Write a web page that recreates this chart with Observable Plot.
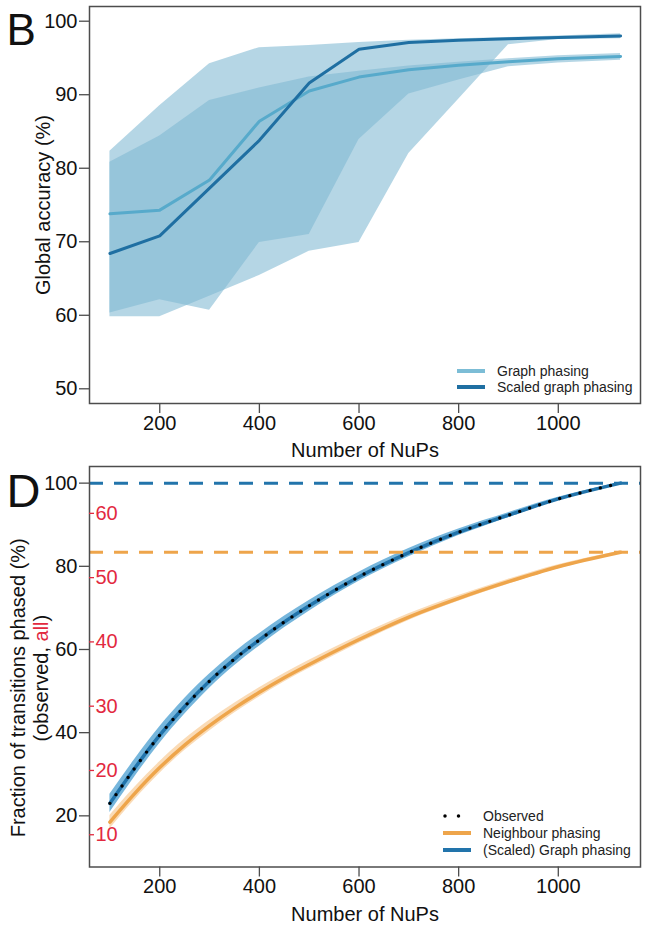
<!DOCTYPE html>
<html><head><meta charset="utf-8">
<script src="https://cdn.jsdelivr.net/npm/d3@7"></script>
<script src="https://cdn.jsdelivr.net/npm/@observablehq/plot@0.6"></script>
<style>
body{margin:0;background:#fff;}
#wrap{position:relative;width:655px;height:926px;font-family:"Liberation Sans",Arial,sans-serif;overflow:hidden;}
#wrap svg{display:block;}
.row{position:absolute;display:flex;align-items:center;height:16px;font-size:14px;color:#222;white-space:nowrap;}
.row svg{display:block;margin-right:12px;}
</style></head><body><div id="wrap"></div>
<script>
// ---------- Panel B data ----------
const nupsB      = [100, 200, 300, 400, 500, 600, 700, 800, 900, 1000, 1125];
const graphAcc   = [73.8, 74.3, 78.4, 86.4, 90.5, 92.4, 93.4, 94.0, 94.5, 94.9, 95.2];
const graphLo    = [60.3, 62.1, 60.7, 69.9, 71.0, 83.9, 90.1, 92.0, 93.8, 94.3, 94.7];
const graphHi    = [80.8, 84.4, 89.2, 90.9, 92.4, 93.2, 93.9, 94.4, 94.9, 95.3, 95.6];
const scaledAcc  = [68.4, 70.8, 77.3, 83.8, 91.6, 96.2, 97.1, 97.4, 97.6, 97.8, 98.0];
const scaledLo   = [59.8, 59.8, 62.6, 65.4, 68.7, 69.9, 82.0, 89.4, 96.8, 97.5, 97.6];
const scaledHi   = [82.3, 88.5, 94.2, 96.4, 96.7, 97.1, 97.4, 97.6, 97.8, 98.0, 98.3];
const yTicksB    = [50, 60, 70, 80, 90, 100];
const xTicks     = [200, 400, 600, 800, 1000];
const seriesB    = ["Graph phasing", "Scaled graph phasing"];

// ---------- Panel D data ----------
const nupsD       = [100, 150, 200, 250, 300, 350, 400, 450, 500, 600, 700, 800, 900, 1000, 1125];
const observed    = [23.0, 31.5, 39.4, 46.3, 52.4, 57.7, 62.3, 66.6, 70.5, 77.5, 83.3, 88.2, 92.3, 96.2, 100.0];
const graphDLo    = [20.8, 29.4, 37.4, 44.4, 50.7, 56.1, 60.8, 65.2, 69.2, 76.4, 82.3, 87.4, 91.7, 95.8, 99.9];
const graphDHi    = [25.2, 33.6, 41.4, 48.2, 54.1, 59.3, 63.8, 68.0, 71.8, 78.6, 84.3, 89.0, 92.9, 96.6, 100.1];
const neighbour   = [18.5, 25.4, 31.6, 37.0, 41.7, 45.9, 49.7, 53.2, 56.4, 62.4, 67.8, 72.3, 76.3, 79.9, 83.4];
const neighbourLo = [16.9, 23.9, 30.2, 35.7, 40.4, 44.7, 48.6, 52.2, 55.4, 61.5, 67.0, 71.6, 75.7, 79.4, 83.1];
const neighbourHi = [20.1, 26.9, 33.0, 38.4, 43.0, 47.1, 50.8, 54.2, 57.4, 63.3, 68.6, 73.0, 76.9, 80.4, 83.7];
const graphMax     = 100;   // dashed blue line
const neighbourMax = 83.4;  // dashed orange line
const yTicksD      = [20, 40, 60, 80, 100];
const allTicks     = [10, 20, 30, 40, 50, 60];   // red inner axis ("all")
const allToObserved = 100 / 64.7;                 // scale factor between the two y axes
const seriesD = ["Observed", "Neighbour phasing", "(Scaled) Graph phasing"];

// ---------- styles ----------
const FONT = '"Liberation Sans", Arial, sans-serif';
const AXIS = "#4d4d4d";
const LIGHT = "#57aacb", DARK = "#1f6fa2", BANDB = "#80b9d3";
const BLUE = "#2274ab", BLUEBAND = "#5ea9d6", ORANGE = "#eea54b", ORANGEBAND = "#f6c386";
const RED = "#e2293f";
const fmt = d => String(d);

const rowsB = nupsB.map((n, i) => ({nups: n, graph: graphAcc[i], graphLo: graphLo[i], graphHi: graphHi[i],
  scaled: scaledAcc[i], scaledLo: scaledLo[i], scaledHi: scaledHi[i]}));
const rowsD = nupsD.map((n, i) => ({nups: n, obs: observed[i], lo: graphDLo[i], hi: graphDHi[i],
  nb: neighbour[i], nbLo: neighbourLo[i], nbHi: neighbourHi[i]}));

const chartB = Plot.plot({
  width: 655, height: 460,
  marginLeft: 89, marginRight: 15, marginTop: 6, marginBottom: 57,
  style: {fontFamily: FONT, fontSize: "20px", color: "#111", background: "white", overflow: "visible"},
  x: {domain: [59, 1165]},
  y: {domain: [48, 102]},
  marks: [
    Plot.areaY(rowsB, {x: "nups", y1: "scaledLo", y2: "scaledHi", fill: BANDB, fillOpacity: 0.58}),
    Plot.areaY(rowsB, {x: "nups", y1: "graphLo", y2: "graphHi", fill: BANDB, fillOpacity: 0.58}),
    Plot.lineY(rowsB, {x: "nups", y: "graph", stroke: LIGHT, strokeWidth: 3}),
    Plot.lineY(rowsB, {x: "nups", y: "scaled", stroke: DARK, strokeWidth: 3}),
    Plot.frame({stroke: AXIS, strokeWidth: 1.5}),
    Plot.axisX(xTicks, {tickSize: 10, tickPadding: 2, tickFormat: fmt, stroke: AXIS, strokeWidth: 1.3, fontSize: 20, label: null}),
    Plot.axisY(yTicksB, {tickSize: 10, tickPadding: 2, tickFormat: fmt, stroke: AXIS, strokeWidth: 1.3, fontSize: 20, label: null}),
    Plot.text(["Number of NuPs"], {text: d => d, frameAnchor: "bottom", dy: 47, textAnchor: "middle", lineAnchor: "middle", fontSize: 20}),
    Plot.text(["Global accuracy (%)"], {text: d => d, frameAnchor: "left", rotate: -90, dx: -45.5, textAnchor: "middle", lineAnchor: "middle", fontSize: 20}),
    Plot.text(["B"], {text: d => d, frameAnchor: "top-left", dx: -83, dy: 7, textAnchor: "start", lineAnchor: "top", fontSize: 44})
  ]
});

const chartD = Plot.plot({
  width: 655, height: 466,
  marginLeft: 89, marginRight: 15, marginTop: 6, marginBottom: 59.5,
  style: {fontFamily: FONT, fontSize: "20px", color: "#111", background: "white", overflow: "visible"},
  x: {domain: [59, 1165]},
  y: {domain: [7.7, 104]},
  marks: [
    Plot.areaY(rowsD, {x: "nups", y1: "nbLo", y2: "nbHi", fill: ORANGEBAND, fillOpacity: 0.6, curve: "monotone-x"}),
    Plot.areaY(rowsD, {x: "nups", y1: "lo", y2: "hi", fill: BLUEBAND, fillOpacity: 0.85, curve: "monotone-x"}),
    Plot.lineY(rowsD, {x: "nups", y: "nb", stroke: ORANGE, strokeWidth: 3.5, curve: "monotone-x"}),
    Plot.lineY(rowsD, {x: "nups", y: "obs", stroke: BLUE, strokeWidth: 3.5, curve: "monotone-x"}),
    Plot.lineY(rowsD, {x: "nups", y: "obs", stroke: "#000", strokeWidth: 3.4, strokeDasharray: "0 10.5", strokeLinecap: "round", curve: "monotone-x"}),
    Plot.ruleY([graphMax], {stroke: BLUE, strokeWidth: 3, strokeDasharray: "14 11"}),
    Plot.ruleY([neighbourMax], {stroke: ORANGE, strokeWidth: 3, strokeDasharray: "14 11"}),
    Plot.frame({stroke: AXIS, strokeWidth: 1.5}),
    Plot.axisX(xTicks, {tickSize: 10, tickPadding: 2, tickFormat: fmt, stroke: AXIS, strokeWidth: 1.3, fontSize: 20, label: null}),
    Plot.axisY(yTicksD, {tickSize: 10, tickPadding: 2, tickFormat: fmt, stroke: AXIS, strokeWidth: 1.3, fontSize: 20, label: null}),
    Plot.axisY(allTicks.map(v => v * allToObserved), {anchor: "left", tickSize: -5, tickPadding: -1, textAnchor: "start",
      tickFormat: v => String(Math.round(v / allToObserved)), stroke: RED, fill: RED, strokeWidth: 1.3, fontSize: 20, label: null}),
    Plot.text(["Number of NuPs"], {text: d => d, frameAnchor: "bottom", dy: 48, textAnchor: "middle", lineAnchor: "middle", fontSize: 20}),
    Plot.text(["Fraction of transitions phased (%)"], {text: d => d, frameAnchor: "left", rotate: -90, dx: -70.5, dy: 21, textAnchor: "middle", lineAnchor: "middle", fontSize: 20}),
    Plot.text(["(observed, "], {text: d => d, frameAnchor: "left", rotate: -90, dx: -48, dy: -25.3, textAnchor: "end", lineAnchor: "middle", fontSize: 20}),
    Plot.text(["all"], {text: d => d, frameAnchor: "left", rotate: -90, dx: -48, dy: -25.3, textAnchor: "start", lineAnchor: "middle", fontSize: 20, fill: RED}),
    Plot.text([")"], {text: d => d, frameAnchor: "left", rotate: -90, dx: -48, dy: -45.3, textAnchor: "start", lineAnchor: "middle", fontSize: 20}),
    Plot.text(["D"], {text: d => d, frameAnchor: "top-left", dx: -83, dy: 7, textAnchor: "start", lineAnchor: "top", fontSize: 47})
  ]
});

const wrap = document.getElementById("wrap");
wrap.appendChild(chartB);
wrap.appendChild(chartD);

// ---------- legends ----------
function swatch(color, dotted) {
  const ns = "http://www.w3.org/2000/svg";
  const s = document.createElementNS(ns, "svg");
  s.setAttribute("width", 28); s.setAttribute("height", 16);
  const l = document.createElementNS(ns, "line");
  l.setAttribute("x1", dotted ? 2 : 0); l.setAttribute("x2", dotted ? 16 : 28);
  l.setAttribute("y1", 8); l.setAttribute("y2", 8);
  l.setAttribute("stroke", color);
  l.setAttribute("stroke-width", dotted ? 3.5 : 4);
  if (dotted) { l.setAttribute("stroke-dasharray", "0 13.5"); l.setAttribute("stroke-linecap", "round"); }
  s.appendChild(l);
  return s;
}
function legendRow(label, color, dotted, left, centerY) {
  const d = document.createElement("div");
  d.className = "row";
  d.style.left = left + "px";
  d.style.top = (centerY - 8) + "px";
  d.appendChild(swatch(color, dotted));
  const t = document.createElement("span");
  t.textContent = label;
  d.appendChild(t);
  wrap.appendChild(d);
}
legendRow(seriesB[0], "#7cbdd6", false, 457, 370.5);
legendRow(seriesB[1], DARK, false, 457, 387);
legendRow(seriesD[0], "#000", true, 443, 815.5);
legendRow(seriesD[1], ORANGE, false, 443, 833);
legendRow(seriesD[2], BLUE, false, 443, 849.5);
</script>
</body></html>
